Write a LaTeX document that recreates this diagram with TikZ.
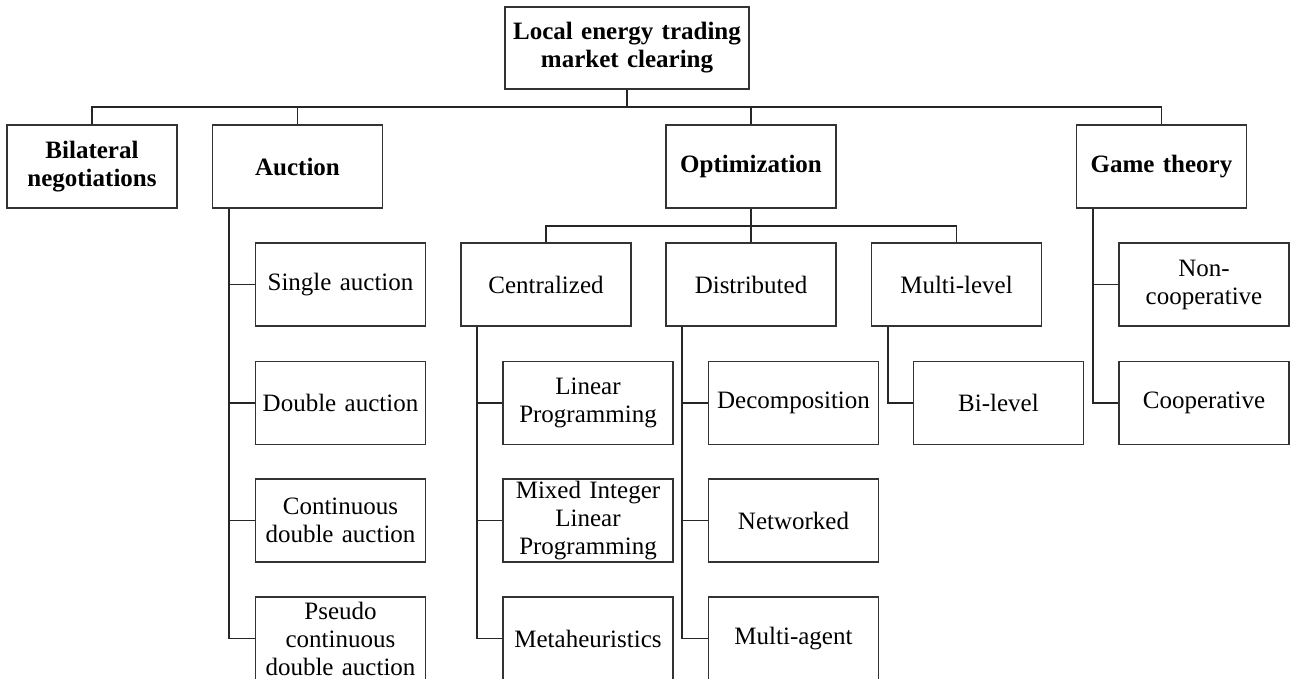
\documentclass[tikz,border=0pt]{standalone}
\usepackage{fontspec}
\setmainfont{Liberation Serif}
\begin{document}
\begin{tikzpicture}[x=1pt,y=-1pt,
  box/.style={draw=black!80,line width=1.8pt,fill=white,minimum width=170pt,minimum height=83pt,inner sep=0pt,align=center,text width=168pt,font=\fontsize{25}{28}\selectfont},
  hbox/.style={box,font=\fontsize{25}{28}\selectfont\bfseries},
  conn/.style={draw=black!85,line width=1.9pt}]
\useasboundingbox (0,0) rectangle (1292,679);
% level 0
\node[hbox,minimum width=244pt,minimum height=82pt,text width=240pt] (root) at (627,48) {Local energy trading\\market clearing};
% level 1
\node[hbox] (bil) at (92,166.5) {Bilateral\\negotiations};
\node[hbox] (auc) at (297.5,166.5) {Auction};
\node[hbox] (opt) at (751,166.5) {Optimization};
\node[hbox] (game) at (1161.5,166.5) {Game theory};
% optimization level
\node[box] (cen) at (546,284.5) {Centralized};
\node[box] (dis) at (751,284.5) {Distributed};
\node[box] (mul) at (956.5,284.5) {Multi-level};
% auction children
\node[box] (sa) at (340.5,284.5) {Single auction};
\node[box] (da) at (340.5,403) {Double auction};
\node[box] (cda) at (340.5,520.5) {Continuous\\double auction};
\node[box] (pcda) at (340.5,638.5) {Pseudo\\continuous\\double auction};
% centralized children
\node[box] (lp) at (588,403) {Linear\\Programming};
\node[box] (milp) at (588,520.5) {Mixed Integer\\Linear\\Programming};
\node[box] (meta) at (588,638.5) {Metaheuristics};
% distributed children
\node[box] (dec) at (793.5,403) {Decomposition};
\node[box] (net) at (793.5,520.5) {Networked};
\node[box] (ma) at (793.5,638.5) {Multi-agent};
% multi-level child
\node[box] (bi) at (998.5,403) {Bi-level};
% game theory children
\node[box] (nc) at (1204,284.5) {Non-\\cooperative};
\node[box] (co) at (1204,403) {Cooperative};
% connectors level 0 -> 1
\coordinate (bus) at (627,107);
\draw[conn] (root.south) -- (bus);
\draw[conn] (bil.north) |- (bus) -| (game.north);
\draw[conn] (auc.north) -- (auc.north |- bus);
\draw[conn] (opt.north) -- (opt.north |- bus);
% optimization -> sub
\coordinate (sbus) at (751,226);
\draw[conn] (opt.south) -- (dis.north);
\draw[conn] (cen.north) |- (sbus) -| (mul.north);
% stems
\foreach \c in {sa,da,cda,pcda} \draw[conn] ([xshift=17pt]auc.south west) |- (\c.west);
\foreach \c in {lp,milp,meta} \draw[conn] ([xshift=17pt]cen.south west) |- (\c.west);
\foreach \c in {dec,net,ma} \draw[conn] ([xshift=17pt]dis.south west) |- (\c.west);
\draw[conn] ([xshift=17pt]mul.south west) |- (bi.west);
\foreach \c in {nc,co} \draw[conn] ([xshift=17pt]game.south west) |- (\c.west);
\end{tikzpicture}
\end{document}
